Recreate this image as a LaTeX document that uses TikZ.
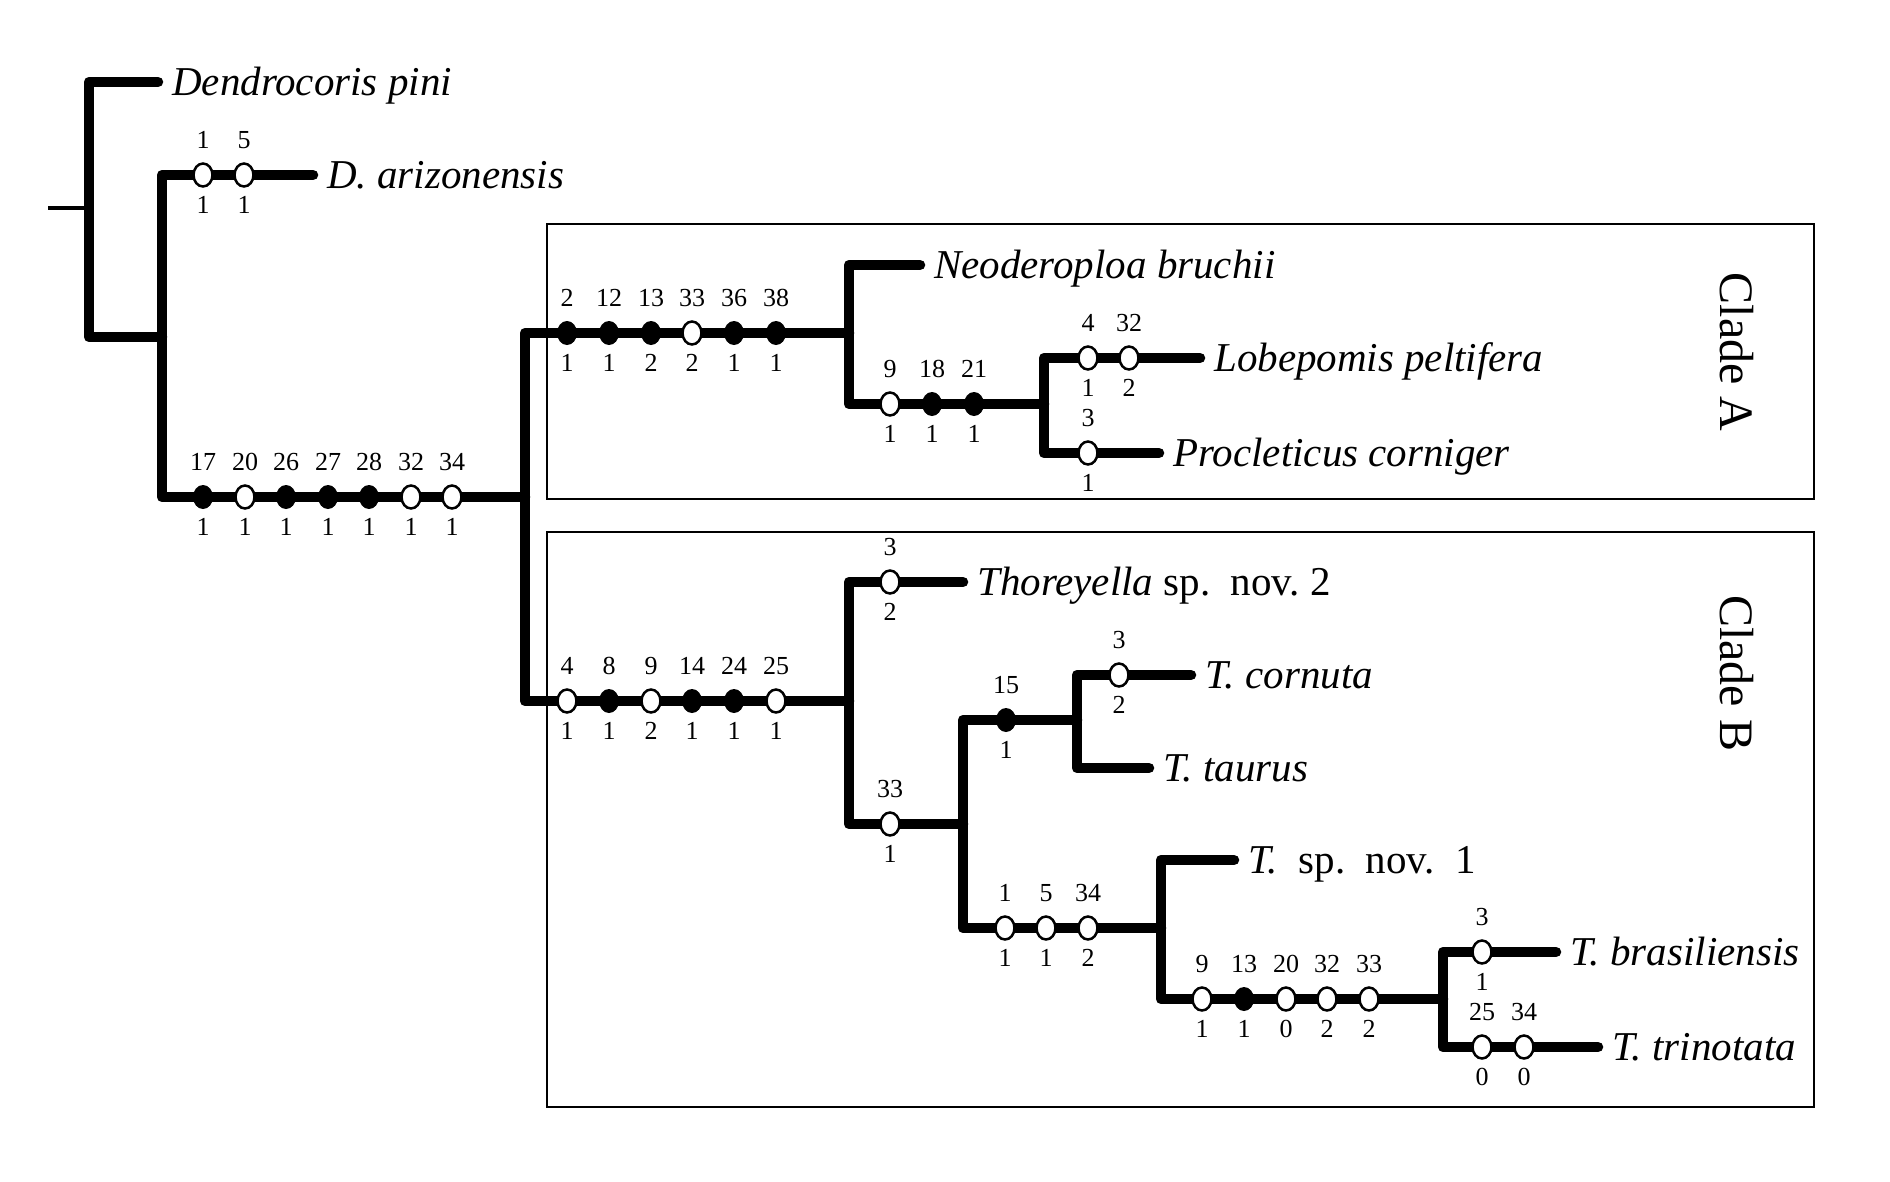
\documentclass[tikz,border=0pt]{standalone}
\usepackage{fontspec}
\setmainfont{Liberation Serif}
\usetikzlibrary{shapes.geometric}
\newcommand{\chm}[6]{%
  \node[#4] (#1) at (#2,#3) {};
  \node[num] (#1u) at (#2,#3-35) {#5};
  \node[num] (#1d) at (#2,#3+30) {#6};
}
\tikzset{
  br/.style={line width=10.5pt, line cap=round, line join=round},
  stub/.style={line width=3.5pt},
  oc/.style={ellipse, draw=black, fill=white, line width=2.5pt, minimum width=19pt, minimum height=23pt, inner sep=0pt},
  fc/.style={ellipse, fill=black, minimum width=20pt, minimum height=24pt, inner sep=0pt},
  num/.style={font=\fontsize{26}{26}\selectfont, inner sep=0pt},
  taxon/.style={anchor=base west, inner sep=0pt, xshift=14pt, yshift=-13.5pt, font=\fontsize{41}{41}\selectfont\itshape},
  cladebox/.style={draw=black, line width=2pt},
  cladelabel/.style={font=\fontsize{48}{48}\selectfont, rotate=-90, inner sep=0pt}
}
\begin{document}
\begin{tikzpicture}[x=1pt,y=-1pt]
\useasboundingbox (0,0) rectangle (1890,1181);
% clade boxes
\draw[cladebox] (547,224) rectangle (1814,499);
\draw[cladebox] (547,532) rectangle (1814,1107);
\node[cladelabel] (cA) at (1737,352) {Clade A};
\node[cladelabel] (cB) at (1737,673) {Clade B};
% tree coordinates
\coordinate (R0) at (48,208);
\coordinate (R) at (89,208);
\coordinate (Dp) at (158,82);
\coordinate (N2) at (162,337);
\coordinate (Da) at (313,175);
\coordinate (N3) at (525,497);
\coordinate (NA) at (849,333);
\coordinate (Nb) at (920,265);
\coordinate (NA2) at (1044,404);
\coordinate (Lp) at (1200,358);
\coordinate (Pc) at (1159,453);
\coordinate (NB) at (849,701);
\coordinate (Th) at (963,582);
\coordinate (NB2) at (963,824);
\coordinate (NB3) at (1077,720);
\coordinate (Tc) at (1191,675);
\coordinate (Tt) at (1149,768);
\coordinate (NB4) at (1161,928);
\coordinate (Ts) at (1234,860);
\coordinate (NB5) at (1443,999);
\coordinate (Tb) at (1556,952);
\coordinate (Ttr) at (1598,1047);
% branches
\draw[stub] (R0) -- (R);
\draw[br] (Dp) -- (Dp -| R) -- (N2 -| R) -- (N2);
\draw[br] (Da) -- (Da -| N2) -- (N3 -| N2) -- (N3);
\draw[br] (NA) -- (NA -| N3) -- (NB -| N3) -- (NB);
\draw[br] (Nb) -- (Nb -| NA) -- (NA2 -| NA) -- (NA2);
\draw[br] (Lp) -- (Lp -| NA2) -- (Pc -| NA2) -- (Pc);
\draw[br] (Th) -- (Th -| NB) -- (NB2 -| NB) -- (NB2);
\draw[br] (NB3) -- (NB3 -| NB2) -- (NB4 -| NB2) -- (NB4);
\draw[br] (Tc) -- (Tc -| NB3) -- (Tt -| NB3) -- (Tt);
\draw[br] (Ts) -- (Ts -| NB4) -- (NB5 -| NB4) -- (NB5);
\draw[br] (Tb) -- (Tb -| NB5) -- (Ttr -| NB5) -- (Ttr);
% taxa
\node[taxon] (tDp) at (Dp) {Dendrocoris pini};
\node[taxon] (tDa) at (Da) {D. arizonensis};
\node[taxon] (tNb) at (Nb) {Neoderoploa bruchii};
\node[taxon] (tLp) at (Lp) {Lobepomis peltifera};
\node[taxon] (tPc) at (Pc) {Procleticus corniger};
\node[taxon] (tTh) at (Th) {Thoreyella \textup{sp.\ \ nov.\ 2}};
\node[taxon] (tTc) at (Tc) {T. cornuta};
\node[taxon] (tTt) at (Tt) {T. taurus};
\node[taxon] (tTs) at (Ts) {T.\ \ \textup{sp.\ \ nov.\ \ 1}};
\node[taxon] (tTb) at (Tb) {T. brasiliensis};
\node[taxon] (tTtr) at (Ttr) {T. trinotata};
% character markers: D. arizonensis
\chm{a1}{203}{175}{oc}{1}{1}
\chm{a2}{244}{175}{oc}{5}{1}
% 17..34
\chm{b1}{203}{497}{fc}{17}{1}
\chm{b2}{245}{497}{oc}{20}{1}
\chm{b3}{286}{497}{fc}{26}{1}
\chm{b4}{328}{497}{fc}{27}{1}
\chm{b5}{369}{497}{fc}{28}{1}
\chm{b6}{411}{497}{oc}{32}{1}
\chm{b7}{452}{497}{oc}{34}{1}
% clade A stem
\chm{c1}{567}{333}{fc}{2}{1}
\chm{c2}{609}{333}{fc}{12}{1}
\chm{c3}{651}{333}{fc}{13}{2}
\chm{c4}{692}{333}{oc}{33}{2}
\chm{c5}{734}{333}{fc}{36}{1}
\chm{c6}{776}{333}{fc}{38}{1}
% NA2 stem
\chm{d1}{890}{404}{oc}{9}{1}
\chm{d2}{932}{404}{fc}{18}{1}
\chm{d3}{974}{404}{fc}{21}{1}
% Lobepomis
\chm{e1}{1088}{358}{oc}{4}{1}
\chm{e2}{1129}{358}{oc}{32}{2}
% Procleticus
\chm{f1}{1088}{453}{oc}{3}{1}
% clade B stem
\chm{g1}{567}{701}{oc}{4}{1}
\chm{g2}{609}{701}{fc}{8}{1}
\chm{g3}{651}{701}{oc}{9}{2}
\chm{g4}{692}{701}{fc}{14}{1}
\chm{g5}{734}{701}{fc}{24}{1}
\chm{g6}{776}{701}{oc}{25}{1}
% Thoreyella
\chm{h1}{890}{582}{oc}{3}{2}
% NB2 stem
\chm{i1}{890}{824}{oc}{33}{1}
% NB3 stem
\chm{j1}{1006}{720}{fc}{15}{1}
% cornuta
\chm{k1}{1119}{675}{oc}{3}{2}
% NB4 stem
\chm{l1}{1005}{928}{oc}{1}{1}
\chm{l2}{1046}{928}{oc}{5}{1}
\chm{l3}{1088}{928}{oc}{34}{2}
% NB5 stem
\chm{m1}{1202}{999}{oc}{9}{1}
\chm{m2}{1244}{999}{fc}{13}{1}
\chm{m3}{1286}{999}{oc}{20}{0}
\chm{m4}{1327}{999}{oc}{32}{2}
\chm{m5}{1369}{999}{oc}{33}{2}
% brasiliensis
\chm{n1}{1482}{952}{oc}{3}{1}
% trinotata
\chm{o1}{1482}{1047}{oc}{25}{0}
\chm{o2}{1524}{1047}{oc}{34}{0}
\end{tikzpicture}
\end{document}
